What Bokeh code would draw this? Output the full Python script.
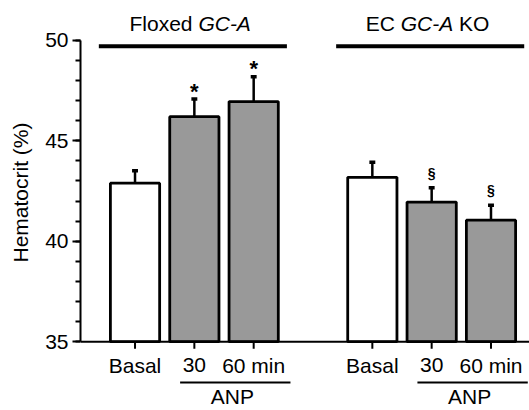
import math
from bokeh.plotting import figure
from bokeh.models import Range1d, FixedTicker, ColumnDataSource, LinearAxis
from bokeh.core.properties import value
from bokeh.embed import file_html
from bokeh.resources import INLINE

# ---------------- data ----------------
categories = ["Basal", "30", "60 min", "Basal", "30", "60 min"]
xpos = [0, 1, 2, 4, 5, 6]
means = [42.89, 46.20, 46.95, 43.18, 41.95, 41.05]
sems = [0.62, 0.88, 1.23, 0.75, 0.71, 0.74]
treated = [False, True, True, False, True, True]
sig = ["", "*", "*", "", "§", "§"]
group_titles = [[("Floxed", "normal"), ("GC-A", "italic")],
                [("EC", "normal"), ("GC-A", "italic"), ("KO", "normal")]]
group_members = [[0, 1, 2], [3, 4, 5]]
treat_label = "ANP"
yticks = [35, 40, 45, 50]
yminor = list(range(35, 51))
ylabel = "Hematocrit (%)"

# ---------------- geometry / style ----------------
FONT = "Liberation Sans"
W, H = 529, 410
BL = 80
FH = 386            # frame height (bottom panel holds the ANP labels)
XR = (-0.919, 6.649)
YR = (32.871, 51.980)
PXX = (W - BL) / (XR[1] - XR[0])
PXY = FH / (YR[1] - YR[0])
GRAY = "#999999"
TSHIFT = 8  # alphabetic-baseline text renders lower than its anchor (px)

p = figure(width=W, height=H, x_range=Range1d(*XR), y_range=Range1d(*YR),
           output_backend="svg", toolbar_location=None, x_axis_location=None,
           min_border_left=BL, min_border_right=0, min_border_top=0,
           min_border_bottom=H - FH)
p.outline_line_color = None
p.grid.visible = False
p.background_fill_color = "white"
p.border_fill_color = "white"

ya = p.yaxis[0]
ya.ticker = FixedTicker(ticks=yticks, minor_ticks=yminor)
ya.bounds = (yticks[0], yticks[-1])
ya.axis_line_width = 2
ya.major_tick_line_width = 2
ya.minor_tick_line_width = 2
ya.major_tick_out = 8
ya.major_tick_in = 0
ya.minor_tick_out = 5
ya.minor_tick_in = 0
ya.major_label_standoff = 4
ya.major_label_text_font = FONT
ya.major_label_text_font_size = "21px"
ya.major_label_text_color = "black"
ya.axis_label = ylabel
ya.axis_label_text_font = FONT
ya.axis_label_text_font_size = "21px"
ya.axis_label_text_font_style = "normal"
ya.axis_label_text_color = "black"
ya.axis_label_standoff = 10

base = yticks[0]
err = [m + s for m, s in zip(means, sems)]
src = ColumnDataSource(dict(
    x=xpos, top=means, err=err,
    fill=[GRAY if t else "white" for t in treated],
    c0=[x - 0.05 for x in xpos], c1=[x + 0.05 for x in xpos],
))

# error bars (upper only)
p.segment(x0="x", y0="top", x1="x", y1="err", line_width=2.5, line_color="black", source=src)
p.segment(x0="c0", y0="err", x1="c1", y1="err", line_width=3.5, line_color="black", source=src)
# bars
p.vbar(x="x", top="top", bottom=base, width=0.83, fill_color="fill",
       line_color="black", line_width=2.8, source=src)

# significance marks
ast_i = [i for i, s in enumerate(sig) if s == "*"]
sec_i = [i for i, s in enumerate(sig) if s == "§"]
p.text(x=[xpos[i] for i in ast_i], y=[err[i] + 8 / PXY for i in ast_i],
       text=[sig[i] for i in ast_i], text_align="center", text_baseline="middle",
       text_font=value(FONT), text_font_size="22px", text_font_style="bold",
       text_color="black")
p.text(x=[xpos[i] for i in sec_i], y=[err[i] + 15 / PXY for i in sec_i],
       text=[sig[i] for i in sec_i], text_align="center", text_baseline="middle",
       text_font=value(FONT), text_font_size="14px", text_font_style="bold",
       text_color="black")

# x axis (drawn manually at y = 35)
p.segment(x0=[XR[0]], y0=[base], x1=[XR[1]], y1=[base], line_width=2, line_color="black")
p.segment(x0=xpos, y0=[base] * len(xpos), x1=xpos, y1=[base - 7 / PXY] * len(xpos),
          line_width=2, line_color="black")
p.text(x=xpos, y=[base - 23.5 / PXY] * len(xpos), text=categories,
       text_align="center", text_baseline="middle", text_font=value(FONT),
       text_font_size="21px", text_color="black")

# ANP brackets: line inside the frame, label on an axis below the frame
anp_x = []
for g in group_members:
    x30, x60 = xpos[g[1]], xpos[g[2]]
    p.segment(x0=[x30 - 0.24], y0=[base - 41 / PXY], x1=[x60 + 0.62], y1=[base - 41 / PXY],
              line_width=2, line_color="black")
    anp_x.append((x30 + x60) / 2 + 0.14)
anp_axis = LinearAxis(ticker=FixedTicker(ticks=anp_x, minor_ticks=[]),
                      major_label_overrides={v: treat_label for v in anp_x},
                      axis_line_color=None, major_tick_line_color=None,
                      minor_tick_line_color=None, major_tick_out=0, major_tick_in=0,
                      major_label_standoff=0, major_label_text_font=FONT,
                      major_label_text_font_size="21px", major_label_text_color="black")
p.add_layout(anp_axis, "below")

# group lines and titles
WID = {"F": 611, "l": 222, "o": 556, "x": 500, "e": 556, "d": 556, " ": 278,
       "G": 778, "C": 722, "-": 333, "A": 667, "E": 667, "K": 667, "O": 778}
TS = 21


def tw(s):
    return sum(WID.get(c, 556) for c in s) * TS / 1000


top = yticks[-1]
for g, parts in zip(group_members, group_titles):
    x0, x1 = xpos[g[0]], xpos[g[-1]]
    p.segment(x0=[x0 - 0.61], y0=[top - 6 / PXY], x1=[x1 + 0.56], y1=[top - 6 / PXY],
              line_width=4, line_color="black")
    total = sum(tw(t) for t, _ in parts) + tw(" ") * (len(parts) - 1)
    cx = (x0 + x1) / 2 - 0.07
    off = -total / 2
    for t, st in parts:
        p.text(x=[cx], y=[top + (9 + TSHIFT) / PXY], text=[t], x_offset=off,
               text_align="left", text_baseline="alphabetic", text_font=value(FONT),
               text_font_size=f"{TS}px", text_font_style=st, text_color="black")
        off += tw(t) + tw(" ")

open("out.html", "w").write(file_html(p, INLINE))
